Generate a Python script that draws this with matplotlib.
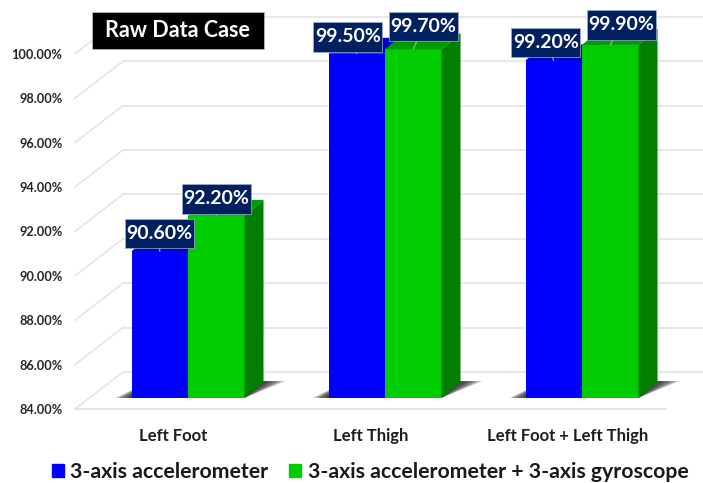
import numpy as np
import matplotlib
matplotlib.use('Agg')
import matplotlib.pyplot as plt
from matplotlib.patches import Patch
from matplotlib.path import Path

categories = ['Left Foot', 'Left Thigh', 'Left Foot + Left Thigh']
accel = [90.6, 99.5, 99.2]
accel_gyro = [92.2, 99.7, 99.9]
yticks = [84, 86, 88, 90, 92, 94, 96, 98, 100]

plt.rcParams['font.family'] = ['Lato', 'DejaVu Sans']
plt.rcParams['font.weight'] = 'bold'

W, H = 703, 483
PX_X = 197.0    # pixels per category
PX_Y = 22.2     # pixels per percentage point
left, base_px = 75, 409
x0_px = 188     # px of first category centre (where the two bars meet)

fig = plt.figure(figsize=(W / 100, H / 100), dpi=100)
ax = fig.add_axes([left / W, (H - base_px) / H, (W - left) / W, base_px / H])
ax.set_xlim((left - x0_px) / PX_X, (W - x0_px) / PX_X)
ax.set_ylim(84, 84 + base_px / PX_Y)
ax.patch.set_alpha(0)
for s in ax.spines.values():
    s.set_visible(False)

bar_w = 56.5 / PX_X
wall_dx, wall_dy = 48 / PX_X, 37 / PX_Y     # depth of the floor
bar_dx, bar_dy = 19 / PX_X, 16 / PX_Y       # depth of one bar
lift = 0.5                                  # bars stand a bit behind the front edge
grid_c = '#e2e2e2'


def rect_box(width, height):
    # fixed size label box, whatever the text measures
    def style(x0, y0, w, h, mutation_size):
        cx, cy = x0 + w / 2, y0 + h / 2
        a, b = cx - width / 2, cy - height / 2
        c, d = cx + width / 2, cy + height / 2
        return Path([(a, b), (c, b), (c, d), (a, d), (a, b)], closed=True)
    return style


# walls and floor
for t in yticks:
    ax.plot([ax.get_xlim()[0], ax.get_xlim()[0] + wall_dx], [t, t + wall_dy],
            color=grid_c, lw=1.1, clip_on=False, zorder=1)
    ax.plot([ax.get_xlim()[0] + wall_dx, ax.get_xlim()[1]], [t + wall_dy, t + wall_dy],
            color=grid_c, lw=1.1, zorder=1)
ax.plot([ax.get_xlim()[0], (666 - x0_px) / PX_X], [84, 84], color=grid_c, lw=1.3,
        clip_on=False, zorder=1)

x = np.arange(len(categories))
base = 84 + lift

# soft shadow on the floor, built from stacked see-through shapes
for i in x:
    xl, xr = i - bar_w, i + bar_w
    for k in np.linspace(1, 0.1, 10):
        sl, sr = k * 16 / PX_X, k * 22 / PX_X
        ax.fill([xl - sl, xr, xr + bar_dx + sr, xl + bar_dx],
                [base, base, base + bar_dy * 1.05, base + bar_dy * 1.05],
                color='#303030', alpha=0.2, lw=0, zorder=2)


def draw_bars(xs, vals, front, top, side, z):
    ax.bar(xs, np.array(vals) - 84, width=bar_w, bottom=base, color=front, lw=0, zorder=z)
    for xi, v in zip(xs, vals):
        yt = v + lift
        xa, xb = xi - bar_w / 2, xi + bar_w / 2
        ax.fill([xa, xb, xb + bar_dx, xa + bar_dx], [yt, yt, yt + bar_dy, yt + bar_dy],
                color=top, lw=0, zorder=z)
        ax.fill([xb, xb + bar_dx, xb + bar_dx, xb], [base, base + bar_dy, yt + bar_dy, yt],
                color=side, lw=0, zorder=z)


draw_bars(x - bar_w / 2, accel, '#0000ff', '#0000cc', '#00007f', 3)
draw_bars(x + bar_w / 2, accel_gyro, '#00cc00', '#009c00', '#007f00', 4)

# data labels, offsets in pixels from the top centre of the bar
offs_accel = [(0, 18), (-9, 17), (-8, 18)]
offs_gyro = [(0, 17), (10, 23), (11, 20)]
for xs, vals, offs in [(x - bar_w / 2, accel, offs_accel), (x + bar_w / 2, accel_gyro, offs_gyro)]:
    for xi, v, off in zip(xs, vals, offs):
        ax.annotate(f'{v:.2f}%', xy=(xi, v + lift), xytext=off, textcoords='offset pixels',
                    ha='center', va='center', color='white', fontsize=14,
                    bbox=dict(boxstyle=rect_box(69, 29.5), fc='#002060', ec='#9fb0cc', lw=0.5),
                    arrowprops=dict(arrowstyle='-', color='#a8b4a8', lw=0.8, shrinkA=0, shrinkB=0,
                                    patchA=None),
                    zorder=6)

# axis text
ax.set_yticks(yticks)
ax.set_yticklabels([f'{t:.2f}%' for t in yticks], fontsize=9.2, color='#262626')
ax.set_xticks(x - 14.5 / PX_X)
ax.set_xticklabels(categories, fontsize=12, color='#1e1e1e')
ax.tick_params(axis='y', length=0, pad=9)
ax.tick_params(axis='x', length=0, pad=13.5)

fig.text(177.5 / W, 1 - 30.5 / H, 'Raw Data Case', color='white', fontsize=15.5,
         ha='center', va='center', zorder=10,
         bbox=dict(boxstyle=rect_box(172, 37), fc='black', ec='#cccccc', lw=0.4))

handles = [Patch(color='#0000ff', label='3-axis accelerometer'),
           Patch(color='#00cc00', label='3-axis accelerometer + 3-axis gyroscope')]
fig.legend(handles=handles, loc='center left', bbox_to_anchor=(51.5 / W, 1 - 472 / H), ncol=2,
           frameon=False, fontsize=15.3, labelcolor='#1a1a1a', handlelength=0.57, handleheight=0.57,
           handletextpad=0.3, columnspacing=1.0, borderpad=0, borderaxespad=0)

fig.savefig('out.png', dpi=100)
